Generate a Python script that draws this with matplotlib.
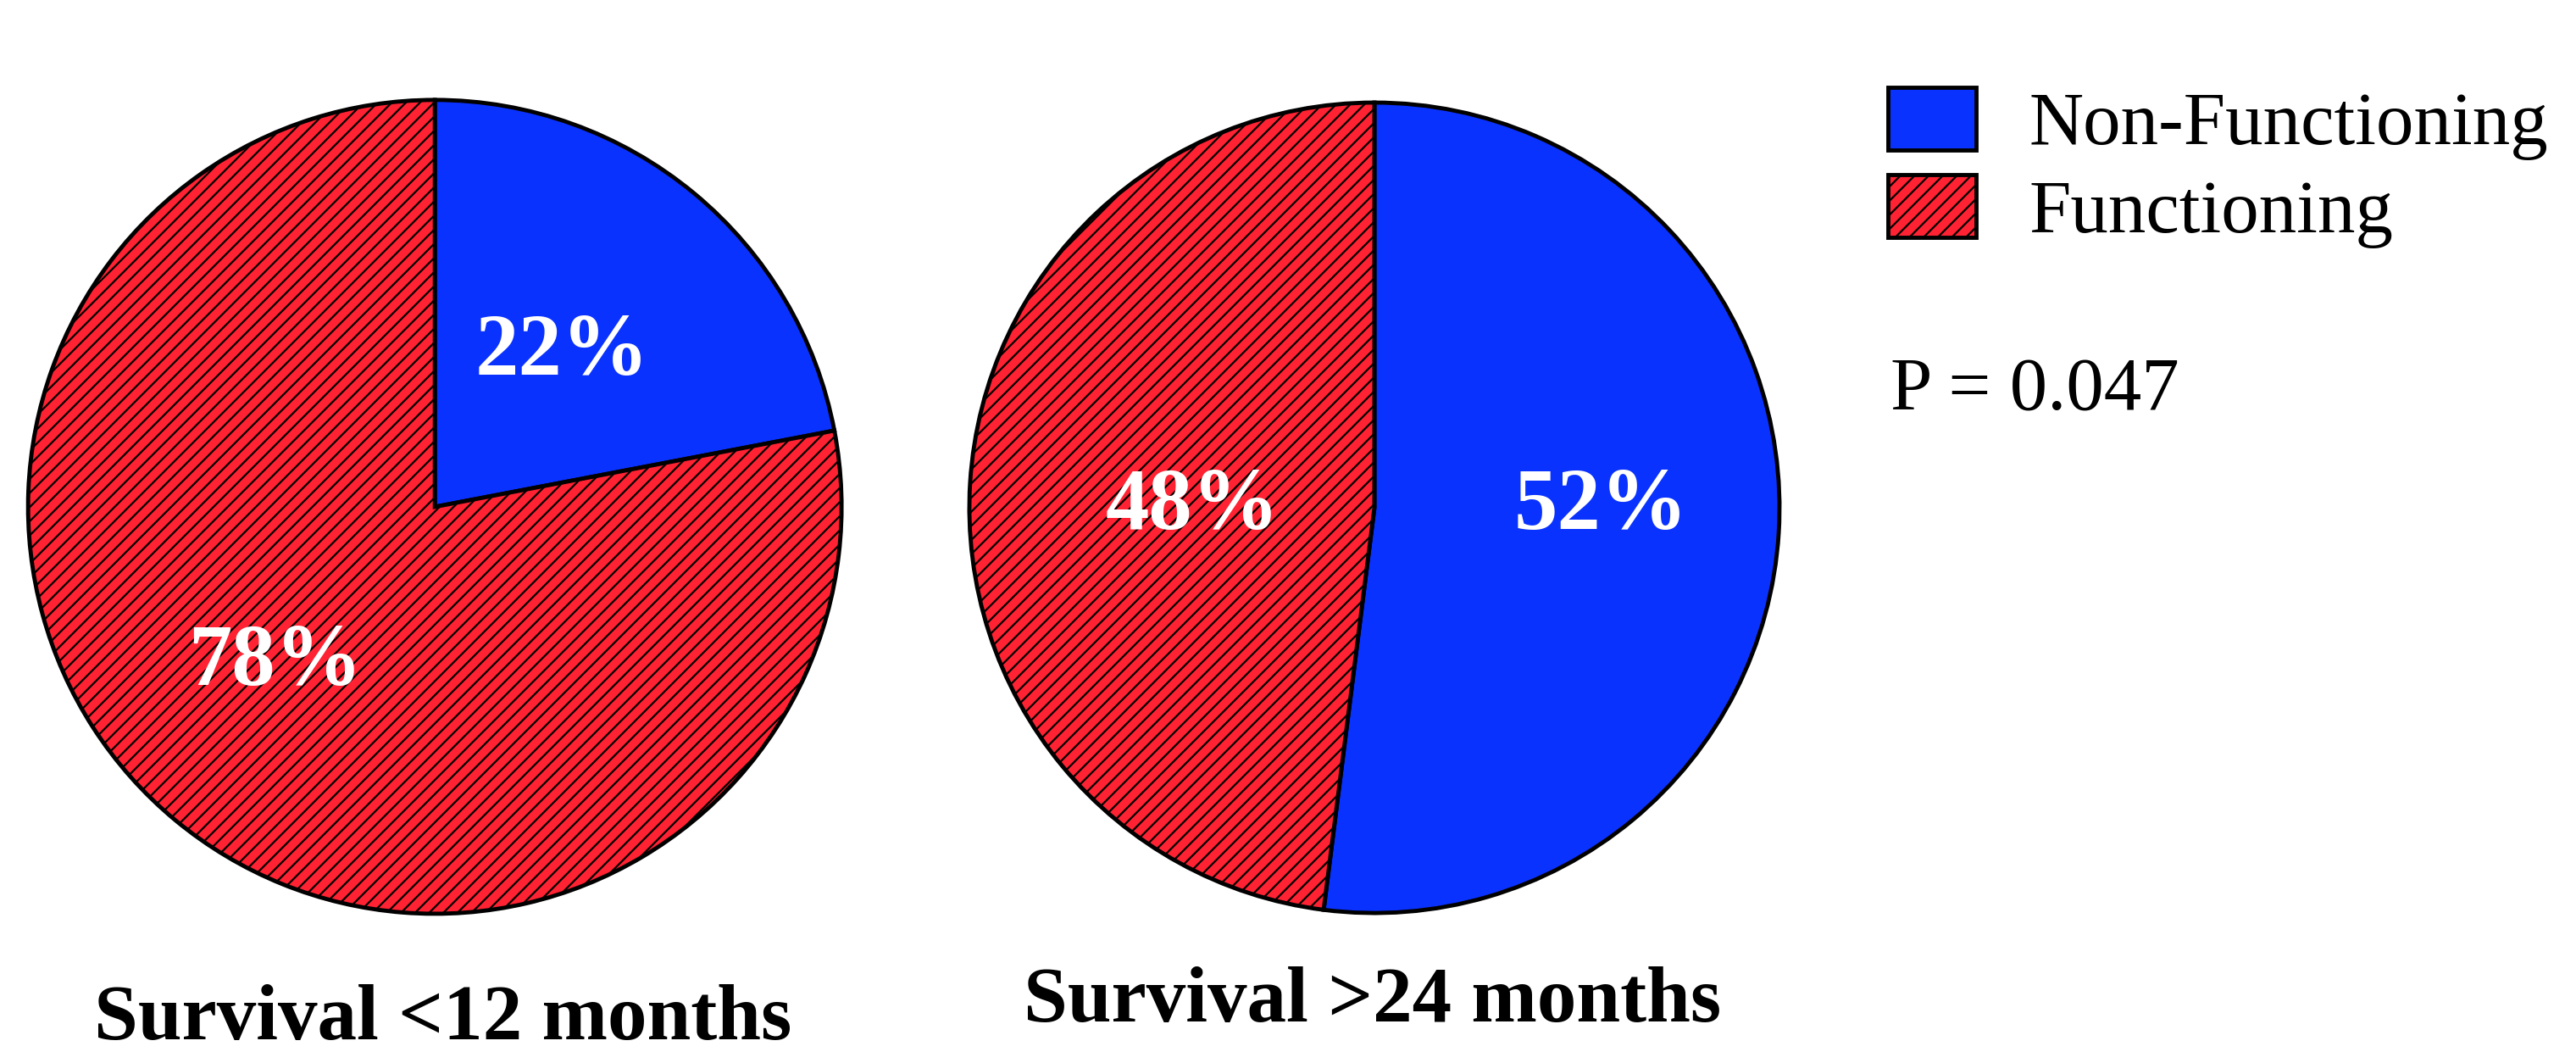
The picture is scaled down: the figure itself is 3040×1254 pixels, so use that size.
import numpy as np
import matplotlib
matplotlib.use("Agg")
import matplotlib.pyplot as plt

plt.rcParams["font.family"] = ["Liberation Serif", "DejaVu Serif"]
plt.rcParams["hatch.linewidth"] = 1.6

categories = ["Non-Functioning", "Functioning"]
short_term = [22, 78]
long_term = [52, 48]
titles = ["Survival <12 months", "Survival >24 months"]
p_text = "P = 0.047"

colors = ["#0a32ff", "#ff2232"]
hatches = ["", "//"]

fig = plt.figure(figsize=(30.4, 12.54), dpi=100)

ax1 = fig.add_axes([0.0109, 0.1404, 0.3158, 0.7656])
ax2 = fig.add_axes([0.3763, 0.1411, 0.3145, 0.7624])

# (radial distance, angle shift in degrees) for each percentage label
label_pos = [[(0.49, 0), (0.55, -6)], [(0.56, 3.6), (0.45, 3.6)]]

for ax, vals, pos in zip([ax1, ax2], [short_term, long_term], label_pos):
    wedges, texts, autotexts = ax.pie(
        vals,
        colors=colors,
        startangle=90,
        counterclock=False,
        autopct="%d%%",
        pctdistance=0.5,
        wedgeprops=dict(edgecolor="black", linewidth=3.5, clip_on=False),
        textprops=dict(color="white", fontsize=74, fontweight="bold"),
    )
    for w, h in zip(wedges, hatches):
        w.set_hatch(h)
    for w, t, (d, shift) in zip(wedges, autotexts, pos):
        mid = np.deg2rad((w.theta1 + w.theta2) / 2 + shift)
        t.set_position((d * np.cos(mid), d * np.sin(mid)))
    ax.set_xlim(-1, 1)
    ax.set_ylim(-1, 1)
    ax.set_aspect("auto")
    ax.axis("off")

fig.text(0.172, 0.040, titles[0], ha="center", va="center",
         fontsize=67, fontweight="bold")
fig.text(0.5326, 0.057, titles[1], ha="center", va="center",
         fontsize=67, fontweight="bold")

fig.legend(
    wedges, categories,
    loc="upper left",
    bbox_to_anchor=(0.733, 0.918),
    frameon=False,
    fontsize=64,
    handlelength=1.17,
    handleheight=0.9,
    handletextpad=0.7,
    labelspacing=0.19,
    borderpad=0,
    borderaxespad=0,
)

fig.text(0.734, 0.632, p_text, ha="left", va="center", fontsize=64)

fig.savefig("out.png", dpi=100)
